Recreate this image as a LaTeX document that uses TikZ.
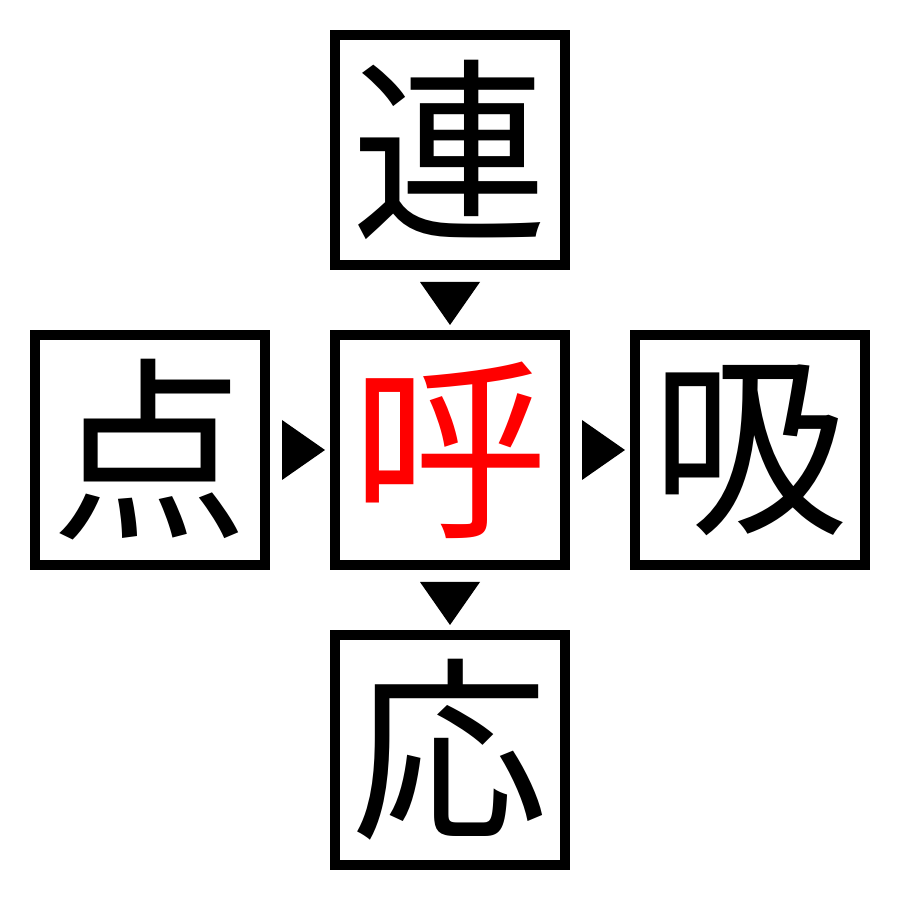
\documentclass[tikz,border=0pt]{standalone}
\usepackage{fontspec}
\newfontfamily\cjk{Noto Sans CJK JP}
\usetikzlibrary{positioning}

\tikzstyle{every picture}+=[>=latex]
\tikzstyle{kanji}=[draw, line width=1mm, minimum size=23mm, inner sep=0pt, font=\cjk\fontsize{56pt}{56pt}\selectfont]

\begin{document}
\begin{tikzpicture}
	\newcommand\downtip[1]{
		\fill (#1) ++(-3mm,1.8mm) -- ++(6mm,0) -- ++(-3mm,-4.3mm) -- cycle ;
	}
	\newcommand\righttip[1]{
		\fill (#1) ++(-1.8mm,3mm) -- ++(0,-6mm) -- ++(4.3mm,3mm) -- cycle ;
	}
	\useasboundingbox (0,0) rectangle (9,9) ;
	\node[kanji, text=red] (hu) at (4.5,4.5) {呼} ;
	\node[kanji, above=6mm of hu] (ren) {連} ;
	\node[kanji, left=6mm of hu] (ten) {点} ;
	\node[kanji, right=6mm of hu] (kyu) {吸} ;
	\node[kanji, below=6mm of hu] (ou) {応} ;
	\path (ren) -- coordinate (ren-hu) (hu) ;
	\path (ten) -- coordinate (ten-hu) (hu) ;
	\path (hu) -- coordinate (hu-kyu) (kyu) ;
	\path (hu) -- coordinate (hu-ou) (ou) ;
	\downtip{ren-hu}
	\downtip{hu-ou}
	\righttip{ten-hu}
	\righttip{hu-kyu}
\end{tikzpicture}
\end{document}
